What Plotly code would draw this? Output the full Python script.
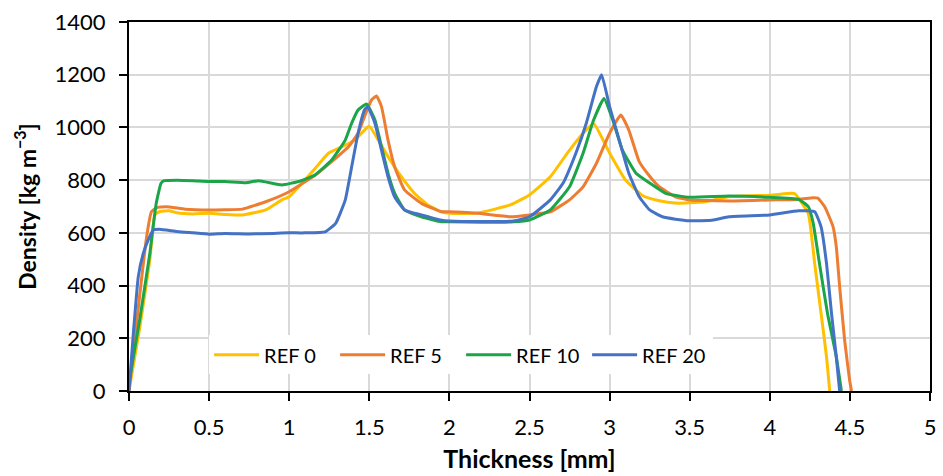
import plotly.graph_objects as go

# REF 0 (yellow)
x_ref0 = [0, 0.068, 0.13, 0.161, 0.19, 0.25, 0.3, 0.4, 0.5, 0.6, 0.708, 0.853, 0.955, 1.0, 1.06, 1.163, 1.245, 1.33, 1.41, 1.47, 1.50,
          1.556, 1.617, 1.70, 1.78, 1.865, 1.95, 2.0, 2.175, 2.38, 2.5, 2.63, 2.75, 2.835, 2.90, 3.0, 3.10, 3.21, 3.31, 3.41,
          3.5, 3.6, 3.745, 4.0, 4.137, 4.157, 4.24, 4.28, 4.32, 4.354, 4.374]
y_ref0 = [0, 244, 497, 668, 680, 684, 676, 672, 674, 670, 668, 687, 725, 737, 775, 845, 902, 927, 952, 990, 1005,
          952, 889, 813, 751, 706, 680, 674, 675, 706, 744, 813, 914, 978, 1015, 903, 800, 740, 722, 713,
          714, 718, 737, 743, 750, 748, 674, 484, 295, 130, 0]

# REF 5 (orange)
x_ref5 = [0, 0.068, 0.11, 0.14, 0.17, 0.233, 0.35, 0.5, 0.6, 0.708, 0.853, 1.0, 1.163, 1.265, 1.37, 1.43, 1.47, 1.514, 1.545,
          1.576, 1.617, 1.658, 1.72, 1.825, 1.95, 2.0, 2.175, 2.38, 2.5, 2.63, 2.75, 2.835, 2.918, 3.0, 3.07, 3.12, 3.185,
          3.25, 3.31, 3.41, 3.5, 3.745, 4.0, 4.18, 4.27, 4.30, 4.343, 4.395, 4.415, 4.436, 4.467, 4.498, 4.51]
y_ref5 = [0, 370, 585, 680, 695, 699, 690, 687, 688, 690, 718, 756, 819, 870, 927, 978, 1041, 1104, 1119,
          1079, 952, 851, 763, 712, 680, 680, 674, 661, 668, 680, 725, 775, 864, 978, 1047, 990, 870,
          815, 775, 737, 725, 721, 725, 727, 733, 732, 699, 623, 548, 396, 194, 42, 0]

# REF 10 (green)
x_ref10 = [0, 0.068, 0.13, 0.17, 0.2, 0.22, 0.3, 0.4, 0.5, 0.6, 0.73, 0.81, 0.955, 1.06, 1.16, 1.265, 1.35, 1.39, 1.43, 1.483,
           1.535, 1.576, 1.617, 1.658, 1.72, 1.825, 1.95, 2.0, 2.2, 2.4, 2.5, 2.63, 2.75, 2.835, 2.90, 2.965, 3.02, 3.08,
           3.165, 3.25, 3.35, 3.5, 3.745, 4.0, 4.18, 4.24, 4.27, 4.31, 4.36, 4.415, 4.447]
y_ref10 = [30, 275, 522, 712, 788, 798, 800, 798, 795, 795, 790, 798, 782, 795, 819, 876, 952, 1016, 1066, 1089,
           1028, 927, 826, 751, 687, 661, 642, 642, 640, 642, 649, 687, 775, 903, 1028, 1110, 1028, 914,
           826, 789, 750, 735, 740, 735, 727, 700, 640, 484, 295, 130, 0]

# REF 20 (blue)
x_ref20 = [0, 0.027, 0.058, 0.089, 0.12, 0.151, 0.19, 0.3, 0.4, 0.5, 0.6, 0.75, 0.9, 1.0, 1.1, 1.225, 1.29, 1.35, 1.39, 1.43,
           1.47, 1.49, 1.535, 1.576, 1.617, 1.658, 1.72, 1.825, 1.95, 2.0, 2.2, 2.4, 2.5, 2.63, 2.71, 2.79, 2.855, 2.918,
           2.95, 3.0, 3.06, 3.12, 3.185, 3.25, 3.33, 3.41, 3.5, 3.64, 3.745, 4.0, 4.18, 4.28, 4.32, 4.354, 4.385, 4.415, 4.436]
y_ref20 = [0, 218, 434, 522, 573, 611, 614, 605, 600, 595, 598, 596, 598, 600, 600, 604, 636, 725, 851, 978,
           1066, 1079, 1016, 914, 813, 737, 687, 668, 648, 645, 643, 645, 661, 725, 789, 903, 1017, 1155,
           1200, 1079, 952, 826, 737, 687, 661, 652, 646, 648, 661, 668, 684, 680, 623, 484, 295, 130, 0]

series = [
    ("REF 0", x_ref0, y_ref0, "#FFC000"),
    ("REF 5", x_ref5, y_ref5, "#ED7D31"),
    ("REF 10", x_ref10, y_ref10, "#1BA548"),
    ("REF 20", x_ref20, y_ref20, "#4472C4"),
]

x_ticks = [0, 0.5, 1, 1.5, 2, 2.5, 3, 3.5, 4, 4.5, 5]
x_ticklabels = ["0", "0.5", "1", "1.5", "2", "2.5", "3", "3.5", "4", "4.5", "5"]
y_ticks = [0, 200, 400, 600, 800, 1000, 1200, 1400]

FONT = "Lato"

fig = go.Figure()
for name, xs, ys, col in series:
    fig.add_trace(go.Scatter(x=xs, y=ys, mode="lines", name=name,
                             line=dict(color=col, width=3, shape="spline", smoothing=0.4)))

fig.update_layout(
    width=943, height=476,
    margin=dict(l=129, r=7, t=22, b=85),
    paper_bgcolor="white", plot_bgcolor="white",
    font=dict(family=FONT, size=22, color="black"),
    showlegend=True,
    legend=dict(orientation="h", x=0.1, y=0.098, xanchor="left", yanchor="middle",
                bgcolor="white", font=dict(family=FONT, size=20, color="black"),
                itemwidth=45, tracegroupgap=0, entrywidth=66, entrywidthmode="pixels"),
)

fig.update_xaxes(
    range=[0, 5], tickmode="array", tickvals=x_ticks, ticktext=x_ticklabels,
    showgrid=True, gridcolor="#D9D9D9", gridwidth=2,
    showline=True, linecolor="black", linewidth=2, mirror=True,
    ticks="outside", ticklen=8, tickwidth=2, tickcolor="black",
    tickfont=dict(family=FONT, size=22, color="black"),
    ticklabelstandoff=8,
    title=dict(text="<b>Thickness [mm]</b>", font=dict(family=FONT, size=25, color="black"), standoff=11),
    zeroline=False,
)
fig.update_yaxes(
    range=[0, 1400], tickmode="array", tickvals=y_ticks,
    showgrid=True, gridcolor="#D9D9D9", gridwidth=2,
    showline=True, linecolor="black", linewidth=2, mirror=True,
    ticks="outside", ticklen=8, tickwidth=2, tickcolor="black",
    tickfont=dict(family=FONT, size=22, color="black"),
    ticklabelstandoff=9,
    title=dict(text="<b>Density [kg m<sup>−3</sup>]</b>", font=dict(family=FONT, size=23, color="black"), standoff=12),
    zeroline=False,
)

fig.write_html("out.html")
